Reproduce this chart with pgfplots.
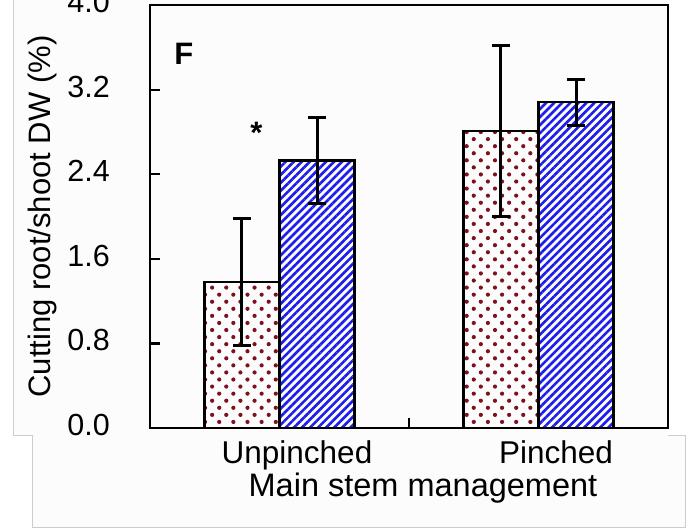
\documentclass[border=0pt]{standalone}
\usepackage{pgfplots}
\pgfplotsset{compat=1.18}
\usepackage{pgfplotstable}
\usepackage{fontspec}
\setmainfont{Liberation Sans}
\usetikzlibrary{patterns.meta}

\definecolor{dotred}{RGB}{125,18,30}
\definecolor{stripeblue}{RGB}{28,28,235}
\definecolor{panelgray}{RGB}{252,252,252}
\definecolor{edgegray}{RGB}{205,205,205}

% root/shoot dry weight ratio: bar centre, mean and error
% (groups at 0 = Unpinched and 1 = Pinched, bars offset by half a bar width)
\pgfplotstableread{
x y err
-0.145 1.38 0.60
0.855 2.81 0.81
}\tablered
\pgfplotstableread{
x y err
0.145 2.53 0.41
1.145 3.08 0.22
}\tableblue

\begin{document}
\begin{tikzpicture}
\useasboundingbox (-150pt,-100pt) rectangle (548pt,428pt);
% light panels behind the chart
\fill[panelgray] (-137pt,430pt) rectangle (518pt,-7pt);
\fill[panelgray] (-118pt,-7pt) rectangle (535pt,-99pt);
\draw[edgegray, line width=0.8pt] (-137pt,430pt) -- (-137pt,-7pt) -- (-118pt,-7pt)
  -- (-118pt,-99pt) -- (535pt,-99pt) -- (535pt,-7pt) -- (518pt,-7pt);

\begin{axis}[
  at={(0pt,0pt)}, anchor=south west,
  scale only axis, width=518pt, height=423pt,
  xmin=-0.5, xmax=1.5, ymin=0, ymax=4,
  axis line style={line width=2.6pt},
  tick style={line width=2.2pt, black},
  tick pos=left, tick align=inside,
  major tick length=10pt,
  ytick={0,0.8,1.6,2.4,3.2,4.0},
  yticklabel style={anchor=east, inner sep=0pt, xshift=-40pt, yshift=3pt,
    font=\fontsize{30.5}{36}\selectfont,
    /pgf/number format/.cd, fixed, fixed zerofill, precision=1, assume math mode=true},
  xtick={0.5}, xticklabels={},
  extra x ticks={0,1},
  extra x tick labels={Unpinched,Pinched},
  extra x tick style={major tick length=0pt,
    xticklabel style={anchor=base, inner sep=0pt, xshift=17.5pt, yshift=-35pt,
      font=\fontsize{31.5}{37}\selectfont}},
  ylabel={Cutting root/shoot DW (\%)},
  every axis y label/.style={at={(axis description cs:-0.193,0.5)}, rotate=90,
    anchor=base, font=\fontsize{31}{37}\selectfont},
  xlabel={Main stem management},
  every axis x label/.style={at={(axis description cs:0.527,-0.163)},
    anchor=base, font=\fontsize{32.5}{38}\selectfont},
  clip=false,
]
\addplot[ybar, bar width=75pt, bar shift=0pt, draw=black, line width=2.2pt,
  pattern={Dots[angle=45, distance=10pt, radius=2.1pt]}, pattern color=dotred,
  error bars/.cd, y dir=both, y explicit,
  error bar style={line width=3pt, black},
  error mark options={rotate=90, mark size=9pt, line width=3pt, black}]
  table[x=x, y=y, y error=err] {\tablered};
\addplot[ybar, bar width=75pt, bar shift=0pt, draw=black, line width=2.2pt,
  pattern={Lines[angle=45, distance=5.7pt, line width=2.6pt]}, pattern color=stripeblue,
  error bars/.cd, y dir=both, y explicit,
  error bar style={line width=3pt, black},
  error mark options={rotate=90, mark size=9pt, line width=3pt, black}]
  table[x=x, y=y, y error=err] {\tableblue};

\node[anchor=base, inner sep=0pt, font=\fontsize{31}{37}\selectfont\bfseries]
  at (axis cs:-0.089,2.69) {*};
\node[anchor=base west, inner sep=0pt, font=\fontsize{31}{37}\selectfont\bfseries]
  at (axis cs:-0.407,3.437) {F};
\end{axis}
\end{tikzpicture}
\end{document}
